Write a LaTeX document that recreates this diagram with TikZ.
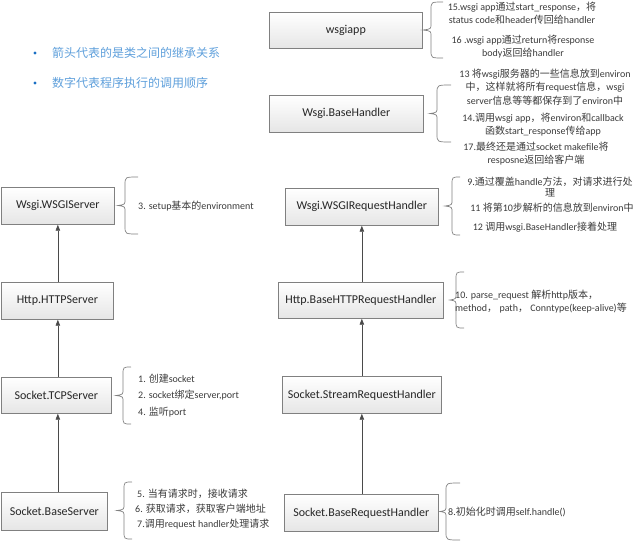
\documentclass[tikz,border=0pt]{standalone}
\usepackage{fontspec}
\setmainfont{Carlito}
\newfontfamily\cjk{Noto Sans CJK SC}
\usetikzlibrary{arrows.meta,shadows}
\newcommand\zh[1]{{\cjk #1}}
\definecolor{boxline}{HTML}{808080}
\definecolor{boxtext}{HTML}{262626}
\definecolor{notetext}{HTML}{3A3A3A}
\definecolor{bullettext}{HTML}{5E9FDB}
\definecolor{bulletdot}{HTML}{1A6FC4}
\definecolor{arrowcol}{HTML}{4A4A4A}
\newcommand\curlybrace[5]{% tip x, vertical x, arm x, top y, bottom y
  \draw[bracestyle] (#3,#4) .. controls (#2,#4) .. (#2,#4+8) -- (#2,{(#4+#5)/2-6})
    .. controls (#2,{(#4+#5)/2-1}) .. (#1,{(#4+#5)/2})
    .. controls (#2,{(#4+#5)/2+1}) .. (#2,{(#4+#5)/2+6}) -- (#2,#5-8)
    .. controls (#2,#5) .. (#3,#5);}
\tikzset{
  box/.style={draw=boxline, line width=0.7pt, top color=white, bottom color=black!10,
    text=boxtext, font=\fontsize{12}{14}\selectfont, anchor=north west,
    inner sep=0pt, drop shadow={shadow xshift=1pt, shadow yshift=-1pt, fill=black!25, opacity=0.5}},
  note/.style={text=notetext, font=\fontsize{10}{13.5}\selectfont, inner sep=0pt, align=center},
  lnote/.style={note, align=left, anchor=west},
  inh/.style={draw=arrowcol, line width=0.7pt, -{Triangle[length=6pt,width=4.5pt]}},
  bracestyle/.style={draw=boxline, line width=0.7pt},
  bullet/.style={text=bullettext, font=\fontsize{12}{14}\cjk, anchor=west, inner sep=0pt},
}
\begin{document}
\begin{tikzpicture}[x=1pt,y=-1pt]
\useasboundingbox (0,0) rectangle (640,541);
% bullets
\fill[bulletdot] (35,53) circle (1.6pt);
\fill[bulletdot] (35,83) circle (1.6pt);
\node[bullet] (b1) at (52,53) {箭头代表的是类之间的继承关系};
\node[bullet] (b2) at (52,83) {数字代表程序执行的调用顺序};
% top right boxes
\node[box, minimum width=153pt, minimum height=36pt] (app) at (269,12) {wsgiapp};
\node[box, minimum width=154pt, minimum height=37pt] (bh) at (269,95) {Wsgi.BaseHandler};
% left column
\node[box, minimum width=113pt, minimum height=37pt] (ws) at (1,187) {Wsgi.WSGIServer};
\node[box, minimum width=112pt, minimum height=37pt] (hs) at (1,282) {Http.HTTPServer};
\node[box, minimum width=110pt, minimum height=36pt] (tcp) at (1,377) {Socket.TCPServer};
\node[box, minimum width=106pt, minimum height=38pt] (bs) at (1,492) {Socket.BaseServer};
% right column
\node[box, minimum width=153pt, minimum height=37pt] (wrh) at (285,188) {Wsgi.WSGIRequestHandler};
\node[box, minimum width=165pt, minimum height=36pt] (hrh) at (278,282) {Http.BaseHTTPRequestHandler};
\node[box, minimum width=159pt, minimum height=37pt] (srh) at (282,376) {Socket.StreamRequestHandler};
\node[box, minimum width=154pt, minimum height=37pt] (brh) at (284,494) {Socket.BaseRequestHandler};
% inheritance arrows
\draw[inh] (hs.north -| ws.south) -- (ws.south);
\draw[inh] (tcp.north -| ws.south) -- (hs.south -| ws.south);
\draw[inh] (bs.north -| ws.south) -- (tcp.south -| ws.south);
\draw[inh] (hrh.north -| wrh.south) -- (wrh.south);
\draw[inh] (srh.north -| wrh.south) -- (hrh.south -| wrh.south);
\draw[inh] (brh.north -| wrh.south) -- (srh.south -| wrh.south);
% braces
\curlybrace{423}{431}{443}{2}{58}
\curlybrace{430}{437}{451}{85}{142}
\curlybrace{118}{125}{138}{177}{234}
\curlybrace{116}{123}{131}{367}{424}
\curlybrace{117}{124}{132}{482}{539}
\curlybrace{445}{452}{460}{177}{235}
\curlybrace{450}{456}{464}{272}{328}
\curlybrace{440}{446}{460}{483}{540}
% notes: wsgiapp
\node[note] (n15) at (522,13) {15.wsgi app\zh{通过}start\_response\zh{，将}\\status code\zh{和}header\zh{传回给}handler};
\node[note] (n16) at (523,46.5) {16 .wsgi app\zh{通过}return\zh{将}response\\body\zh{返回给}handler};
% notes: BaseHandler
\node[note] (n13) at (545,87) {13 \zh{将}wsgi\zh{服务器的一些信息放到}environ\\\zh{中，这样就将所有}request\zh{信息，}wsgi\\server\zh{信息等等都保存到了}environ\zh{中}};
\node[note] (n14) at (543,124.5) {14.\zh{调用}wsgi app\zh{，将}environ\zh{和}callback\\\zh{函数}start\_response\zh{传给}app};
\node[note] (n17) at (536,153.5) {17.\zh{最终还是通过}socket makefile\zh{将}\\resposne\zh{返回给客户端}};
% notes: WSGIRequestHandler
\node[note, font=\fontsize{10}{11}\selectfont] (n9) at (550,187.5) {9.\zh{通过覆盖}handle\zh{方法，对请求进行处}\\\zh{理}};
\node[note] (n11) at (552,208) {11 \zh{将第}10\zh{步解析的信息放到}environ\zh{中}};
\node[note] (n12) at (545,227) {12 \zh{调用}wsgi.BaseHandler\zh{接着处理}};
% notes: BaseHTTPRequestHandler
\node[lnote] (n10) at (455,301.5) {10. parse\_request \zh{解析}http\zh{版本，}\\method\zh{，} path\zh{，} Conntype(keep-alive)\zh{等}};
% notes: WSGIServer
\node[lnote] (n3) at (138,206) {3. setup\zh{基本的}environment};
% notes: TCPServer
\node[lnote] (n1) at (138,379) {1. \zh{创建}socket};
\node[lnote] (n2) at (138,395) {2. socket\zh{绑定}server,port};
\node[lnote] (n4) at (138,412) {4. \zh{监听}port};
% notes: BaseServer
\node[lnote] (n5) at (137,494) {5. \zh{当有请求时，接收请求}};
\node[lnote] (n6) at (135,509) {6. \zh{获取请求，获取客户端地址}};
\node[lnote] (n7) at (137,524) {7.\zh{调用}request handler\zh{处理请求}};
% notes: BaseRequestHandler
\node[lnote] (n8) at (448,512) {8.\zh{初始化时调用}self.handle()};
\end{tikzpicture}
\end{document}
